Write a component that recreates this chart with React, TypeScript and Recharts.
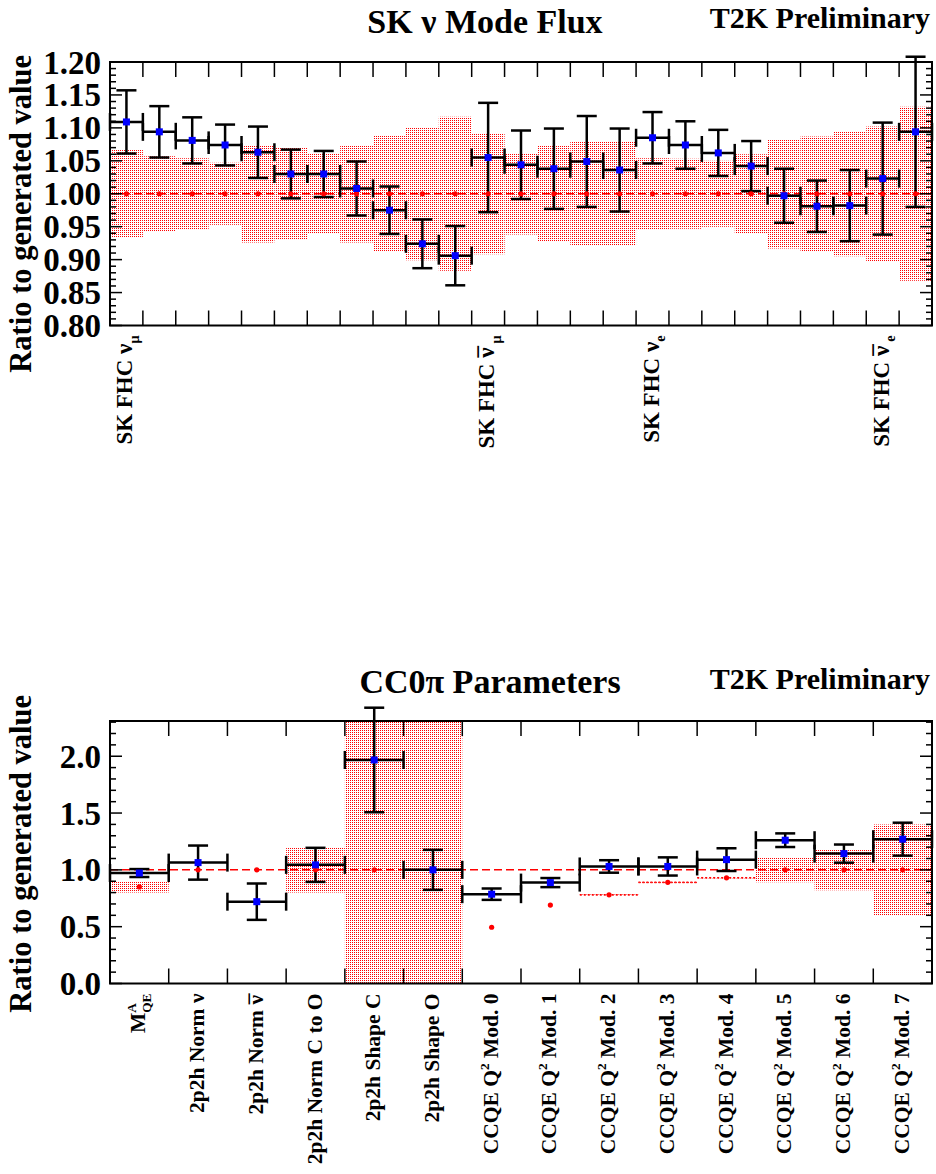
import React from 'react';
import { ComposedChart, XAxis, YAxis, Scatter, ErrorBar, ReferenceArea, ReferenceLine } from 'recharts';

const FONT = '"Liberation Serif", "Times New Roman", serif';

// ---- SK nu mode flux (25 bins) ----
// "~" marks an overlined (anti-neutrino) symbol, "_" a subscript, "^" a superscript
const fluxLabels = [
  'SK FHC ν_μ', '', '', '', '', '', '', '', '', '', '',
  'SK FHC ~ν_μ', '', '', '', '',
  'SK FHC ν_e', '', '', '', '', '', '',
  'SK FHC ~ν_e', '',
];
const fluxPostfit = [
  1.109, 1.094, 1.081, 1.074, 1.063, 1.030, 1.030, 1.008, 0.975, 0.924, 0.906,
  1.055, 1.044, 1.038, 1.049, 1.036,
  1.085, 1.074, 1.062, 1.042, 0.997, 0.981, 0.982,
  1.023, 1.094,
];
const fluxPostfitErr = [
  0.048, 0.039, 0.035, 0.031, 0.039, 0.037, 0.035, 0.041, 0.036, 0.037, 0.045,
  0.083, 0.052, 0.061, 0.069, 0.063,
  0.039, 0.036, 0.035, 0.038, 0.041, 0.039, 0.054,
  0.085, 0.114,
];
const fluxPrior = [
  1, 1, 1, 1, 1, 1, 1, 1, 1, 1, 1,
  1, 1, 1, 1, 1,
  1, 1, 1, 1, 1, 1, 1,
  1, 1,
];
const fluxPriorErr = [
  0.067, 0.057, 0.054, 0.047, 0.074, 0.070, 0.061, 0.074, 0.088, 0.101, 0.117,
  0.092, 0.062, 0.073, 0.079, 0.079,
  0.054, 0.053, 0.050, 0.060, 0.083, 0.087, 0.095,
  0.102, 0.132,
];
const fluxTicks = [0.8, 0.85, 0.9, 0.95, 1.0, 1.05, 1.1, 1.15, 1.2];
const fluxTickLabels = ['0.80', '0.85', '0.90', '0.95', '1.00', '1.05', '1.10', '1.15', '1.20'];

// ---- CC0pi parameters (14 bins) ----
const xsecLabels = [
  'M^A_QE', '2p2h Norm ν', '2p2h Norm ~ν', '2p2h Norm C to O', '2p2h Shape C', '2p2h Shape O',
  'CCQE Q^2 Mod. 0', 'CCQE Q^2 Mod. 1', 'CCQE Q^2 Mod. 2', 'CCQE Q^2 Mod. 3',
  'CCQE Q^2 Mod. 4', 'CCQE Q^2 Mod. 5', 'CCQE Q^2 Mod. 6', 'CCQE Q^2 Mod. 7',
];
const xsecPostfit = [0.972, 1.064, 0.72, 1.044, 1.967, 1.0, 0.786, 0.888, 1.03, 1.03, 1.09, 1.261, 1.143, 1.27];
const xsecPostfitErr = [0.035, 0.15, 0.16, 0.15, 0.46, 0.176, 0.05, 0.04, 0.055, 0.08, 0.1, 0.06, 0.08, 0.145];
const xsecPrior = [0.85, 1, 1, 1, 1, 1, 0.495, 0.69, 0.78, 0.89, 0.93, 1, 1, 1];
const xsecPriorErr = [0.05, null, null, 0.2, 2.0, 2.0, null, null, 0.003, 0.003, 0.003, 0.11, 0.18, 0.4];
const xsecTicks = [0, 0.5, 1.0, 1.5, 2.0];
const xsecTickLabels = ['0.0', '0.5', '1.0', '1.5', '2.0'];

const PLOT_LEFT = 110;
const PLOT_RIGHT = 932;
const WIDTH = 936;

function richLabel(label: string, fs: number) {
  const parts = label.split(/([\^_~][^\s^_~]+)/).filter(Boolean);
  let cur = 0;
  let prev = '';
  let carryDx = 0;
  const out: React.ReactNode[] = [];
  parts.forEach((p, k) => {
    let target = 0;
    let size = fs;
    let text = p;
    let dx = carryDx;
    carryDx = 0;
    const kind = p[0] === '^' || p[0] === '_' || p[0] === '~' ? p[0] : '';
    if (kind === '^' || kind === '_') {
      size = fs * 0.62;
      text = p.slice(1);
      target = kind === '^' ? -fs * 0.42 : fs * 0.28;
      if (kind === '_' && prev === '^') dx += -fs * 0.45;
    } else if (kind === '~') {
      text = p.slice(1);
    }
    const dy = target - cur;
    cur = target;
    prev = kind;
    out.push(
      <tspan key={k} fontSize={size} dy={dy} dx={dx || undefined}>
        {text}
      </tspan>
    );
    if (kind === '~') {
      // bar over the symbol: spacing macron pulled back over the glyph
      out.push(
        <tspan key={`${k}bar`} fontSize={fs} dx={-fs * 0.43} dy={fs * 0.04}>
          {'\u00AF'}
        </tspan>
      );
      cur += fs * 0.04;
      carryDx = fs * 0.1;
    }
  });
  return out;
}

interface PanelCfg {
  labels: string[];
  postfit: number[];
  postfitErr: number[];
  prior: number[];
  priorErr: (number | null)[];
  domain: [number, number];
  majors: number[];
  majorLabels: string[];
  minorStep: number;
  plotTop: number;
  plotHeight: number;
  xAxisHeight: number;
  height: number;
  labelSize: number;
}

function Panel({ cfg }: { cfg: PanelCfg }) {
  const n = cfg.labels.length;
  const plotTop = cfg.plotTop;
  const plotBottom = cfg.plotTop + cfg.plotHeight;
  const [lo, hi] = cfg.domain;

  const fitPts = cfg.postfit.map((v, i) => ({ x: i + 0.5, y: v, ex: 0.5, ey: cfg.postfitErr[i] }));
  const priorPts = cfg.prior.map((v, i) => ({ x: i + 0.5, y: v }));

  const xTicks: number[] = [];
  for (let i = 0; i <= 2 * n; i++) xTicks.push(i / 2);
  const yTicks: number[] = [];
  for (let k = Math.round(lo / cfg.minorStep); k * cfg.minorStep <= hi + 1e-9; k++) {
    yTicks.push(+(k * cfg.minorStep).toFixed(4));
  }

  const renderXTick = (props: any) => {
    const { x, payload } = props;
    const v = payload.value;
    if (Math.abs(v - Math.round(v)) < 1e-6) {
      return (
        <g>
          <line x1={x} x2={x} y1={plotBottom} y2={plotBottom - 15} stroke="#000" strokeWidth={1.5} />
          <line x1={x} x2={x} y1={plotTop} y2={plotTop + 15} stroke="#000" strokeWidth={1.5} />
        </g>
      );
    }
    const label = cfg.labels[Math.floor(v)];
    if (!label) return <g />;
    return (
      <text
        transform={`translate(${x + 6},${plotBottom + 10}) rotate(-90)`}
        textAnchor="end"
        fontFamily={FONT}
        fontWeight="bold"
        fontSize={cfg.labelSize}
        fill="#000"
      >
        {richLabel(label, cfg.labelSize)}
      </text>
    );
  };

  const renderYTick = (props: any) => {
    const { y, payload } = props;
    const v = payload.value;
    const mi = cfg.majors.findIndex((m) => Math.abs(m - v) < 1e-6);
    const len = mi >= 0 ? 12 : 6;
    return (
      <g>
        <line x1={PLOT_LEFT} x2={PLOT_LEFT + len} y1={y} y2={y} stroke="#000" strokeWidth={1.5} />
        <line x1={PLOT_RIGHT} x2={PLOT_RIGHT - len} y1={y} y2={y} stroke="#000" strokeWidth={1.5} />
        {mi >= 0 && (
          <text x={PLOT_LEFT - 9} y={y} dy="0.35em" textAnchor="end" fontFamily={FONT} fontWeight="bold" fontSize={33} fill="#000">
            {cfg.majorLabels[mi]}
          </text>
        )}
      </g>
    );
  };

  return (
    <ComposedChart
      width={WIDTH}
      height={cfg.height}
      margin={{ top: plotTop, right: WIDTH - PLOT_RIGHT, left: 0, bottom: cfg.height - plotBottom - cfg.xAxisHeight }}
    >
      <XAxis
        type="number"
        dataKey="x"
        domain={[0, n]}
        ticks={xTicks}
        interval={0}
        allowDataOverflow
        axisLine={false}
        tickLine={false}
        tickSize={0}
        height={cfg.xAxisHeight}
        tick={renderXTick}
      />
      <YAxis
        type="number"
        dataKey="y"
        domain={cfg.domain}
        ticks={yTicks}
        interval={0}
        allowDataOverflow
        axisLine={false}
        tickLine={false}
        tickSize={0}
        width={PLOT_LEFT}
        tick={renderYTick}
      />
      {cfg.priorErr.map((e, i) =>
        e == null ? null : (
          <ReferenceArea
            key={`band${i}`}
            x1={i}
            x2={i + 1}
            y1={cfg.prior[i] - e}
            y2={cfg.prior[i] + e}
            ifOverflow="hidden"
            fill="url(#rootDots)"
            fillOpacity={1}
            stroke={e < 0.01 ? '#ff0000' : 'none'}
            strokeDasharray="2 2"
            strokeWidth={1}
          />
        )
      )}
      <ReferenceLine y={1} stroke="#ff0000" strokeWidth={1.5} strokeDasharray="8 4" />
      <Scatter
        data={priorPts}
        isAnimationActive={false}
        shape={(p: any) => <circle cx={p.cx} cy={p.cy} r={2.6} fill="#ff0000" />}
      />
      <Scatter
        data={fitPts}
        isAnimationActive={false}
        shape={(p: any) => <rect x={p.cx - 3.5} y={p.cy - 3.5} width={7} height={7} fill="#0000ff" />}
      >
        <ErrorBar dataKey="ex" direction="x" width={9} stroke="#000" strokeWidth={2.5} />
        <ErrorBar dataKey="ey" direction="y" width={10} stroke="#000" strokeWidth={2.5} />
      </Scatter>
      <ReferenceArea x1={0} x2={n} y1={lo} y2={hi} ifOverflow="visible" fill="none" stroke="#000" strokeWidth={2} />
    </ComposedChart>
  );
}

const fluxCfg: PanelCfg = {
  labels: fluxLabels,
  postfit: fluxPostfit,
  postfitErr: fluxPostfitErr,
  prior: fluxPrior,
  priorErr: fluxPriorErr,
  domain: [0.8, 1.2],
  majors: fluxTicks,
  majorLabels: fluxTickLabels,
  minorStep: 0.01,
  plotTop: 62,
  plotHeight: 263.5,
  xAxisHeight: 130,
  height: 460,
  labelSize: 23,
};

const xsecCfg: PanelCfg = {
  labels: xsecLabels,
  postfit: xsecPostfit,
  postfitErr: xsecPostfitErr,
  prior: xsecPrior,
  priorErr: xsecPriorErr,
  domain: [0, 2.31],
  majors: xsecTicks,
  majorLabels: xsecTickLabels,
  minorStep: 0.1,
  plotTop: 81,
  plotHeight: 262.5,
  xAxisHeight: 185,
  height: 534,
  labelSize: 21.5,
};

export default function App() {
  const textStyle = { fontFamily: FONT, fontWeight: 'bold' as const, fill: '#000' };
  return (
    <div style={{ position: 'relative', width: WIDTH, height: 1174, background: '#fff' }}>
      <style>{'body{margin:0}'}</style>
      <svg width={0} height={0} style={{ position: 'absolute' }}>
        <defs>
          <pattern id="rootDots" x={0} y={0} width={2} height={2} patternUnits="userSpaceOnUse">
            <rect x={0} y={0} width={2} height={2} fill="#ffffff" shapeRendering="crispEdges" />
            <rect x={0} y={0} width={1} height={1} fill="#ff0000" shapeRendering="crispEdges" />
          </pattern>
        </defs>
      </svg>
      <div style={{ position: 'absolute', left: 0, top: 0 }}>
        <Panel cfg={fluxCfg} />
      </div>
      <div style={{ position: 'absolute', left: 0, top: 640 }}>
        <Panel cfg={xsecCfg} />
      </div>
      <svg width={WIDTH} height={1174} style={{ position: 'absolute', left: 0, top: 0, pointerEvents: 'none' }}>
        <text x={485} y={33} textAnchor="middle" fontSize={34} {...textStyle}>SK ν Mode Flux</text>
        <text x={930} y={28} textAnchor="end" fontSize={30} {...textStyle}>T2K Preliminary</text>
        <text transform="translate(31,55) rotate(-90)" textAnchor="end" fontSize={30.5} {...textStyle}>Ratio to generated value</text>
        <text x={490} y={693} textAnchor="middle" fontSize={34} {...textStyle}>CC0π Parameters</text>
        <text x={930} y={689} textAnchor="end" fontSize={30} {...textStyle}>T2K Preliminary</text>
        <text transform="translate(31,695) rotate(-90)" textAnchor="end" fontSize={30.5} {...textStyle}>Ratio to generated value</text>
      </svg>
    </div>
  );
}
